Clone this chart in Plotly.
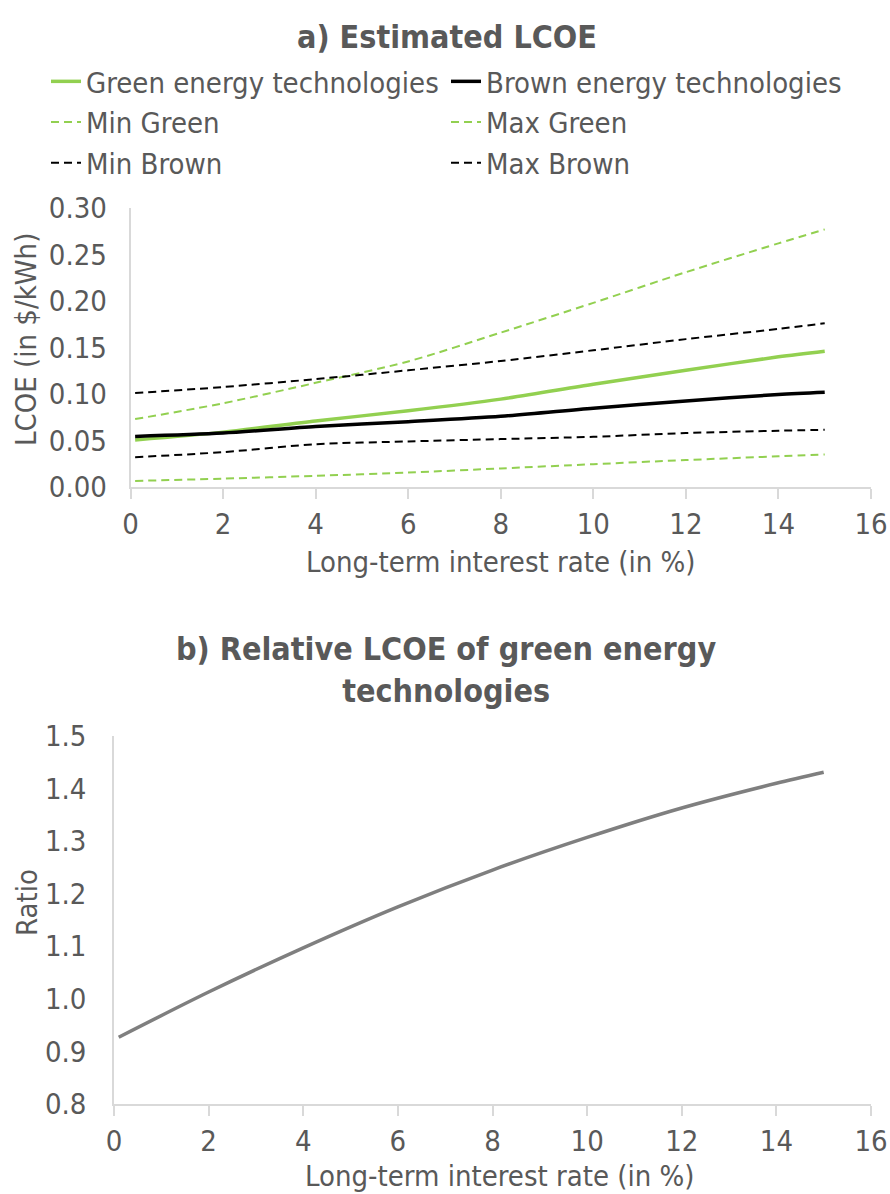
import plotly.graph_objects as go

# ---- data ----
rate = [0.1, 2, 4, 6, 8, 10, 12, 14, 15]
green = [0.0505, 0.059, 0.071, 0.082, 0.0945, 0.1105, 0.1255, 0.140, 0.146]
brown = [0.0544, 0.058, 0.065, 0.0702, 0.076, 0.0848, 0.0925, 0.0995, 0.102]
min_green = [0.0065, 0.009, 0.012, 0.0155, 0.020, 0.0245, 0.029, 0.033, 0.035]
max_green = [0.073, 0.090, 0.112, 0.135, 0.166, 0.198, 0.231, 0.262, 0.277]
min_brown = [0.032, 0.0375, 0.046, 0.049, 0.0515, 0.054, 0.058, 0.0605, 0.0615]
max_brown = [0.101, 0.1075, 0.116, 0.1255, 0.1355, 0.147, 0.159, 0.170, 0.176]
ratio = [0.927, 1.013, 1.097, 1.175, 1.245, 1.307, 1.363, 1.410, 1.431]

x_ticks = [0, 2, 4, 6, 8, 10, 12, 14, 16]

GREEN = "#92D050"
BLACK = "#000000"
GREY_TXT = "#595959"
AXIS = "#D9D9D9"
FONT = "DejaVu Sans Condensed"

W, H = 890, 1194
ML, MR, MT, MB = 114, 19, 100, 90
PW = W - ML - MR
PH = H - MT - MB


def px(xp):
    return (xp - ML) / PW


def py(yp):
    return (H - MB - yp) / PH


fig = go.Figure()

series = [
    ("Green energy technologies", green, GREEN, 3.5, "solid"),
    ("Brown energy technologies", brown, BLACK, 3.5, "solid"),
    ("Min Green", min_green, GREEN, 2, "8px,5px"),
    ("Max Green", max_green, GREEN, 2, "8px,5px"),
    ("Min Brown", min_brown, BLACK, 2, "8px,5px"),
    ("Max Brown", max_brown, BLACK, 2, "8px,5px"),
]
for name, vals, col, wdt, dash in series:
    fig.add_trace(go.Scatter(
        x=rate, y=vals, name=name, mode="lines",
        line=dict(color=col, width=wdt, dash=dash, shape="spline", smoothing=0.8),
        xaxis="x", yaxis="y", showlegend=True,
    ))

fig.add_trace(go.Scatter(
    x=rate, y=ratio, name="Ratio", mode="lines",
    line=dict(color="#7F7F7F", width=3.5, shape="spline", smoothing=0.8),
    xaxis="x2", yaxis="y2", showlegend=False,
))

tickfont = dict(family=FONT, size=29, color=GREY_TXT)

common_x = dict(
    range=[0, 16], tickvals=x_ticks, showline=True, linecolor=AXIS, linewidth=1.5,
    ticks="outside", ticklen=10, tickcolor=AXIS, tickwidth=1.5, showgrid=False,
    zeroline=False, tickfont=tickfont, fixedrange=True, automargin=False,
)

fig.update_layout(
    template="none",
    width=W, height=H,
    margin=dict(l=ML, r=MR, t=MT, b=MB, autoexpand=False),
    paper_bgcolor="white", plot_bgcolor="white",
    font=dict(family=FONT, color=GREY_TXT),
    xaxis=dict(domain=[px(130.5), 1], anchor="y", **common_x),
    yaxis=dict(domain=[py(487), py(208)], anchor="x", range=[0, 0.30], dtick=0.05,
               tickformat=".2f", showline=True, linecolor=AXIS, linewidth=1.5,
               ticks="", showgrid=False, zeroline=False, tickfont=tickfont,
               ticklabelstandoff=16, automargin=False, fixedrange=True),
    xaxis2=dict(domain=[0, 1], anchor="y2", **common_x),
    yaxis2=dict(domain=[py(1104), py(736)], anchor="x2", range=[0.8, 1.5], dtick=0.1,
                tickformat=".1f", showline=True, linecolor=AXIS, linewidth=1.5,
                ticks="", showgrid=False, zeroline=False, tickfont=tickfont,
                ticklabelstandoff=20, automargin=False, fixedrange=True),
    legend=dict(
        orientation="h", x=px(46), y=py(56), xanchor="left", yanchor="top",
        entrywidth=355, entrywidthmode="pixels",
        font=dict(family=FONT, size=29, color=GREY_TXT),
        bgcolor="rgba(0,0,0,0)", itemwidth=30, tracegroupgap=0,
    ),
    showlegend=True,
)

title_font = dict(family=FONT, size=32, color=GREY_TXT)
label_font = dict(family=FONT, size=29, color=GREY_TXT)

fig.add_annotation(text="<b>a) Estimated LCOE</b>", x=px(447), y=py(37),
                   xref="paper", yref="paper", showarrow=False, font=title_font,
                   xanchor="center", yanchor="middle")
fig.add_annotation(text="<b>b) Relative LCOE of green energy<br>technologies</b>",
                   x=px(446), y=py(670), xref="paper", yref="paper", showarrow=False,
                   font=title_font, xanchor="center", yanchor="middle")
fig.add_annotation(text="Long-term interest rate (in %)", x=px(501), y=py(562),
                   xref="paper", yref="paper", showarrow=False, font=label_font,
                   xanchor="center", yanchor="middle")
fig.add_annotation(text="Long-term interest rate (in %)", x=px(500), y=py(1176),
                   xref="paper", yref="paper", showarrow=False, font=label_font,
                   xanchor="center", yanchor="middle")
fig.add_annotation(text="LCOE (in $/kWh)", x=px(26), y=py(340), textangle=-90,
                   xref="paper", yref="paper", showarrow=False, font=label_font,
                   xanchor="center", yanchor="middle")
fig.add_annotation(text="Ratio", x=px(27), y=py(903), textangle=-90,
                   xref="paper", yref="paper", showarrow=False, font=label_font,
                   xanchor="center", yanchor="middle")

fig.write_html("out.html", config={"displayModeBar": False},
               post_script="document.body.style.margin='0';")
